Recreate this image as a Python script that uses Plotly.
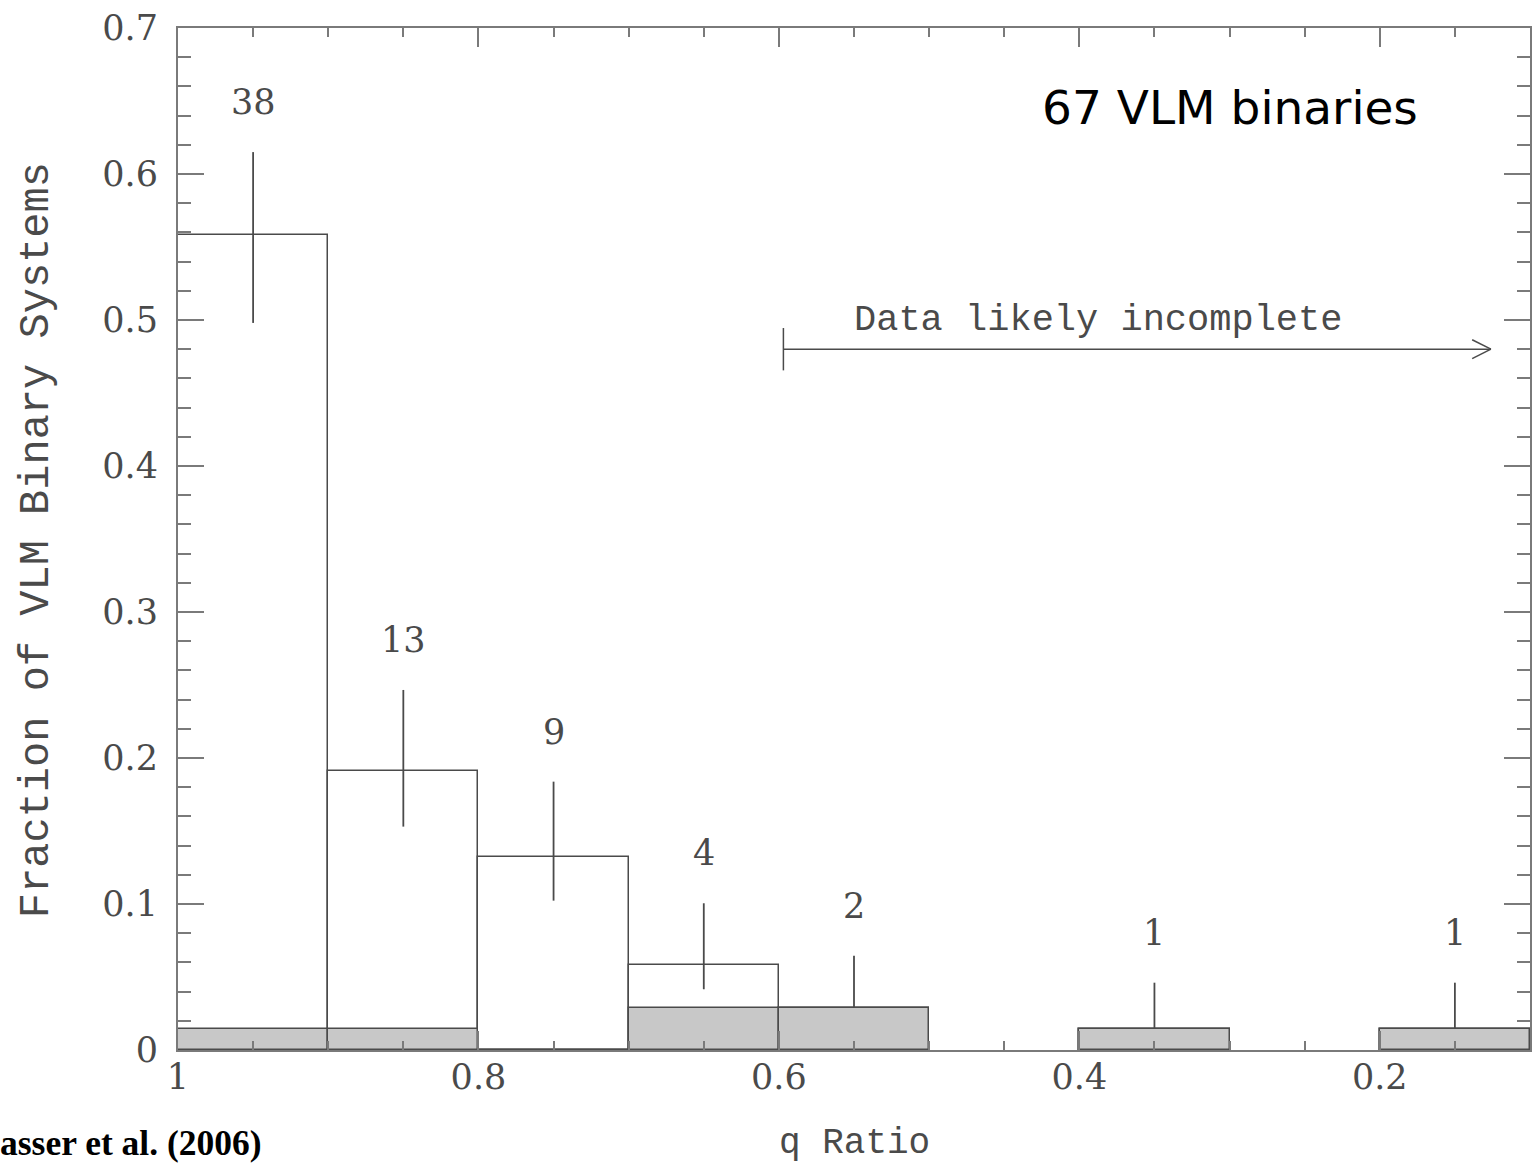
import plotly.graph_objects as go

# ---------------- data ----------------
bin_centers = [0.95, 0.85, 0.75, 0.65, 0.55, 0.35, 0.15]
counts = ["38", "13", "9", "4", "2", "1", "1"]
total_frac = [0.5585, 0.191, 0.132, 0.058, 0.029, 0.0145, 0.0145]
gray_frac = [0.0145, 0.0145, 0.0, 0.029, 0.029, 0.0145, 0.0145]
err_upper = [0.615, 0.2466, 0.1838, 0.1005, 0.0646, 0.0461, 0.0461]
err_lower = [0.498, 0.153, 0.1023, 0.0416, 0.029, 0.0145, 0.0145]

x_ticks = [1.0, 0.8, 0.6, 0.4, 0.2]
x_ticklabels = ["1", "0.8", "0.6", "0.4", "0.2"]
y_ticks = [0, 0.1, 0.2, 0.3, 0.4, 0.5, 0.6, 0.7]
y_ticklabels = ["0", "0.1", "0.2", "0.3", "0.4", "0.5", "0.6", "0.7"]

bin_width = 0.1
arrow_start_q = 0.597
arrow_end_q = 0.126
arrow_y = 0.480
arrow_tick_half = 0.0145

# ---------------- layout constants ----------------
W, H = 1532, 1167
ML, MR, MT, MB = 178, 0, 28, 117
PW, PH = W - ML - MR, H - MT - MB

def px_x(p):
    return (p - ML) / PW

def px_y(p):
    return (H - MB - p) / PH

LINE = "#4a4a4a"
AX = "#7a7a7a"
TXT = "#4a4a4a"
NUMFONT = "DejaVu Serif"
SERIF = "Liberation Serif"
MONO = "Liberation Mono"

fig = go.Figure()

# total histogram (outline)
fig.add_trace(go.Bar(
    x=bin_centers, y=total_frac, width=bin_width,
    marker=dict(color="rgba(255,255,255,0)", line=dict(color=LINE, width=1.5)),
    showlegend=False, hoverinfo="skip"))
# gray sub-histogram
fig.add_trace(go.Bar(
    x=bin_centers, y=gray_frac, width=bin_width,
    marker=dict(color="#c8c8c8", line=dict(color=LINE, width=1.5)),
    showlegend=False, hoverinfo="skip"))

# error bars (vertical lines)
ex, ey = [], []
for c, lo, hi in zip(bin_centers, err_lower, err_upper):
    ex += [c, c, None]
    ey += [lo, hi, None]
fig.add_trace(go.Scatter(x=ex, y=ey, mode="lines",
                         line=dict(color=LINE, width=1.8),
                         showlegend=False, hoverinfo="skip"))

# count labels
for c, hi, lab in zip(bin_centers, err_upper, counts):
    fig.add_annotation(x=c, y=hi, text=lab, showarrow=False, yshift=50,
                       yanchor="middle", xanchor="center",
                       font=dict(family=NUMFONT, size=35, color=TXT))

# "Data likely incomplete" arrow
fig.add_shape(type="line", x0=arrow_start_q, x1=arrow_end_q, y0=arrow_y, y1=arrow_y,
              line=dict(color=LINE, width=1.5))
fig.add_shape(type="line", x0=arrow_start_q, x1=arrow_start_q,
              y0=arrow_y - arrow_tick_half, y1=arrow_y + arrow_tick_half,
              line=dict(color=LINE, width=1.5))
head_dx, head_dy = 0.0125, 0.0065
for s in (1, -1):
    fig.add_shape(type="line", x0=arrow_end_q, y0=arrow_y,
                  x1=arrow_end_q + head_dx, y1=arrow_y + s * head_dy,
                  line=dict(color=LINE, width=1.5))

fig.add_annotation(xref="paper", yref="paper", x=px_x(1099), y=px_y(320),
                   text="Data likely incomplete", showarrow=False,
                   xanchor="center", yanchor="middle",
                   font=dict(family=MONO, size=37, color=TXT))

fig.add_annotation(xref="paper", yref="paper", x=px_x(1232), y=px_y(107),
                   text="67 VLM binaries", showarrow=False,
                   xanchor="center", yanchor="middle",
                   font=dict(family="DejaVu Sans", size=47, color="#000000"))

# axis titles
fig.add_annotation(xref="paper", yref="paper", x=px_x(37), y=px_y(540),
                   text="Fraction of VLM Binary Systems", showarrow=False,
                   textangle=-90, xanchor="center", yanchor="middle",
                   font=dict(family=MONO, size=42, color=TXT))
fig.add_annotation(xref="paper", yref="paper", x=px_x(855), y=px_y(1143),
                   text="q Ratio", showarrow=False,
                   xanchor="center", yanchor="middle",
                   font=dict(family=MONO, size=36, color=TXT))

# citation (as visible at the left edge)
fig.add_annotation(xref="paper", yref="paper", x=px_x(-2), y=px_y(1143),
                   text="<b>asser et al. (2006)</b>", showarrow=False,
                   xanchor="left", yanchor="middle",
                   font=dict(family=SERIF, size=35.5, color="#000000"))

fig.update_layout(
    width=W, height=H,
    margin=dict(l=ML, r=MR, t=MT, b=MB, pad=0),
    paper_bgcolor="white", plot_bgcolor="white",
    barmode="overlay", bargap=0,
    showlegend=False,
    xaxis=dict(range=[1.0, 0.1], tickmode="array", tickvals=x_ticks,
               ticktext=x_ticklabels, ticks="inside", ticklen=19, tickwidth=2,
               tickcolor=AX, showline=True, linecolor=AX, linewidth=2,
               mirror="allticks", showgrid=False, zeroline=False,
               ticklabelstandoff=-5,
               minor=dict(dtick=0.05, tick0=0, ticks="inside", ticklen=9,
                          tickwidth=2, tickcolor=AX, showgrid=False),
               tickfont=dict(family=NUMFONT, size=35, color=TXT)),
    yaxis=dict(range=[0, 0.7], tickmode="array", tickvals=y_ticks,
               ticktext=y_ticklabels, ticks="inside", ticklen=26, tickwidth=2,
               tickcolor=AX, showline=True, linecolor=AX, linewidth=2,
               mirror="allticks", showgrid=False, zeroline=False,
               ticklabelstandoff=11,
               minor=dict(dtick=0.02, tick0=0, ticks="inside", ticklen=13,
                          tickwidth=2, tickcolor=AX, showgrid=False),
               tickfont=dict(family=NUMFONT, size=35, color=TXT)),
)

fig.write_html("out.html")
